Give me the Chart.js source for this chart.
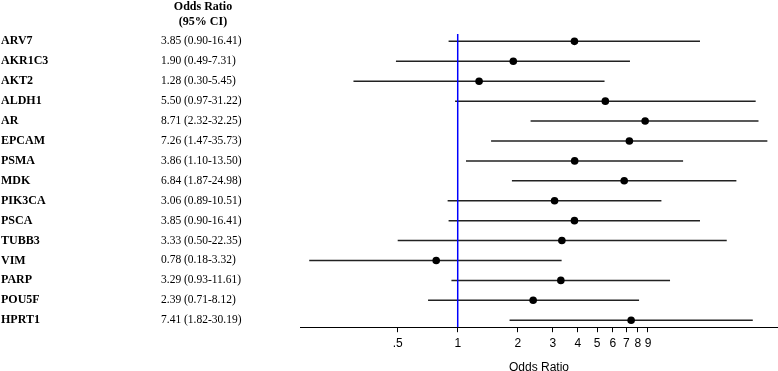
<!DOCTYPE html>
<html>
<head>
<meta charset="utf-8">
<script src="https://cdn.jsdelivr.net/npm/chart.js@4"></script>
<style>
  html, body { margin: 0; padding: 0; background: #fff; }
</style>
</head>
<body>
<canvas id="forestChart" width="778" height="371"></canvas>
<script>
// Forest plot data
const genes = ['ARV7', 'AKR1C3', 'AKT2', 'ALDH1', 'AR', 'EPCAM', 'PSMA', 'MDK', 'PIK3CA', 'PSCA', 'TUBB3', 'VIM', 'PARP', 'POU5F', 'HPRT1'];
const oddsRatio = [3.85, 1.90, 1.28, 5.50, 8.71, 7.26, 3.86, 6.84, 3.06, 3.85, 3.33, 0.78, 3.29, 2.39, 7.41];
const ciLow = [0.90, 0.49, 0.30, 0.97, 2.32, 1.47, 1.10, 1.87, 0.89, 0.90, 0.50, 0.18, 0.93, 0.71, 1.82];
const ciHigh = [16.41, 7.31, 5.45, 31.22, 32.25, 35.73, 13.50, 24.98, 10.51, 16.41, 22.35, 3.32, 11.61, 8.12, 30.19];
const xTicks = [0.5, 1, 2, 3, 4, 5, 6, 7, 8, 9];
const xTickLabels = ['.5', '1', '2', '3', '4', '5', '6', '7', '8', '9'];

const Y_MIN = -0.37, Y_MAX = 14.35;

const ciText = (i) => oddsRatio[i].toFixed(2) + ' (' + ciLow[i].toFixed(2) + '-' + ciHigh[i].toFixed(2) + ')';

// left-hand table of names and estimates
const leftText = {
  id: 'leftText',
  afterDraw(chart) {
    const ctx = chart.ctx;
    const y = chart.scales.y;
    ctx.save();
    ctx.fillStyle = '#000';
    ctx.textBaseline = 'middle';
    ctx.font = 'bold 12px "Liberation Serif"';
    ctx.textAlign = 'center';
    ctx.fillText('Odds Ratio', 203, 7);
    ctx.fillText('(95% CI)', 203, 22);
    ctx.textAlign = 'left';
    genes.forEach((g, i) => {
      const py = y.getPixelForValue(i);
      ctx.font = 'bold 12px "Liberation Serif"';
      ctx.fillText(g, 1, py);
      ctx.font = '11.5px "Liberation Serif"';
      ctx.fillText(ciText(i), 161, py);
    });
    ctx.restore();
  }
};

const datasets = [];

// CI lines
genes.forEach((g, i) => {
  datasets.push({
    label: g,
    data: [{ x: ciLow[i], y: i }, { x: ciHigh[i], y: i }],
    showLine: true,
    borderColor: '#222',
    borderWidth: 1.5,
    pointRadius: 0,
    order: 2
  });
});

// reference line at OR = 1
datasets.push({
  label: 'ref',
  data: [{ x: 1, y: Y_MIN }, { x: 1, y: Y_MAX }],
  showLine: true,
  borderColor: '#0000ff',
  borderWidth: 1.5,
  pointRadius: 0,
  order: 1
});

// point estimates
datasets.push({
  label: 'OR',
  data: oddsRatio.map((v, i) => ({ x: v, y: i })),
  showLine: false,
  pointRadius: 3.8,
  pointBackgroundColor: '#000',
  pointBorderWidth: 0,
  order: 0
});

const forestChart = new Chart(document.getElementById('forestChart'), {
  type: 'scatter',
  data: { datasets: datasets },
  options: {
    responsive: false,
    animation: false,
    devicePixelRatio: 1,
    layout: { autoPadding: false, padding: { left: 300, top: 34, right: 0, bottom: -4 } },
    plugins: {
      legend: { display: false },
      tooltip: { enabled: false }
    },
    scales: {
      x: {
        type: 'logarithmic',
        min: 0.1618,
        max: 40.4,
        afterBuildTicks: (scale) => {
          scale.ticks = xTicks.map(v => ({ value: v }));
        },
        afterFit: (scale) => {
          scale.paddingLeft = 0;
          scale.paddingRight = 0;
        },
        ticks: {
          autoSkip: false,
          maxRotation: 0,
          color: '#000',
          padding: 4,
          font: { family: 'Liberation Sans', size: 12 },
          callback: (v) => xTickLabels[xTicks.indexOf(v)]
        },
        grid: { drawOnChartArea: false, drawTicks: true, tickLength: 5, color: '#000' },
        border: { display: true, color: '#000', width: 1 },
        title: {
          display: true,
          text: 'Odds Ratio',
          color: '#000',
          font: { family: 'Liberation Sans', size: 12 },
          padding: { top: 6, bottom: 0 }
        }
      },
      y: {
        type: 'linear',
        min: Y_MIN,
        max: Y_MAX,
        reverse: true,
        display: false
      }
    }
  },
  plugins: [leftText]
});
</script>
</body>
</html>
